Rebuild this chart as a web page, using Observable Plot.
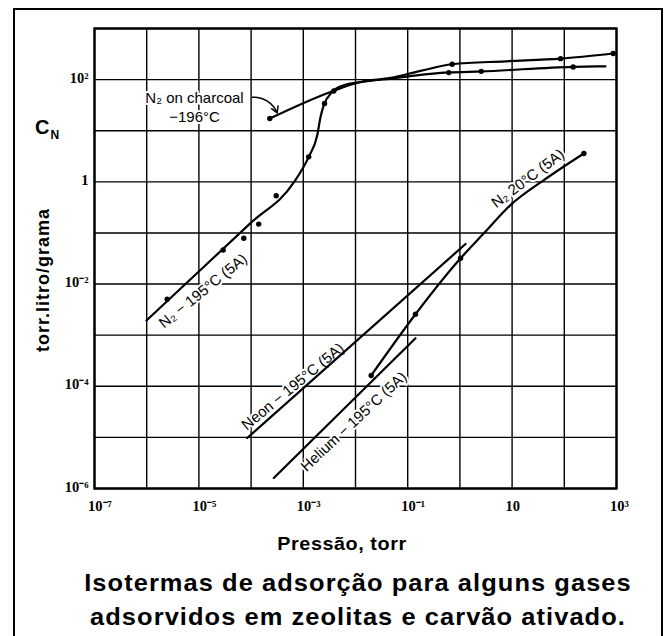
<!DOCTYPE html>
<html><head><meta charset="utf-8">
<script src="https://cdn.jsdelivr.net/npm/d3@7"></script>
<script src="https://cdn.jsdelivr.net/npm/@observablehq/plot@0.6"></script>
<style>
body{margin:0;background:#fff;width:665px;height:636px;overflow:hidden;position:relative;font-family:"Liberation Sans",Arial,sans-serif}
#box{position:absolute;left:13px;top:8px;width:650px;height:700px;border:2.5px solid #000;box-sizing:border-box}
#chart{position:absolute;left:0;top:0}
.t{position:absolute;white-space:nowrap;font-weight:bold;color:#000;font-family:"Liberation Sans",Arial,sans-serif}
</style></head><body>
<div id="box"></div>
<div id="chart"></div>
<div class="t" style="left:35px;top:117px;font-size:20px;line-height:20px">C<span style="font-size:12px;position:relative;top:5px;margin-left:1px">N</span></div>
<div class="t" style="left:43px;top:280px;font-size:18px;line-height:20px;letter-spacing:1px;transform:translate(-50%,-50%) rotate(-90deg)">torr.litro/grama</div>
<div class="t" style="left:342px;top:534px;font-size:18px;line-height:20px;letter-spacing:0.5px;transform:translateX(-50%) scaleX(1.1)">Pressão, torr</div>
<div class="t" style="left:358px;top:566px;font-size:24px;line-height:34px;letter-spacing:1px;text-align:center;transform:translateX(-50%) scaleX(1.06)">Isotermas de adsorção para alguns gases<br>adsorvidos em zeolitas e carvão ativado.</div>
<script>
// N2 -195°C on zeolite 5A: curve
const zeoCurveP = [9.9e-7, 1.07e-5, 9.75e-5, 6.58e-4, 1.27e-3, 1.85e-3, 2.14e-3, 2.47e-3, 3.58e-3, 5.97e-3, 1.25e-2, 4.68e-2, 0.612, 2.56, 148, 615];
const zeoCurveC = [1.93e-3, 1.88e-2, 0.156, 0.973, 3.08, 8.17, 18.6, 31.6, 57.5, 77.6, 89.1, 104.7, 138, 144.5, 178, 182];
// N2 -195°C on zeolite 5A: measured points
const zeoDotP = [2.47e-6, 2.92e-5, 7.24e-5, 1.40e-4, 3.03e-4, 1.27e-3, 2.55e-3, 3.84e-3, 0.612, 2.56, 148];
const zeoDotC = [5.05e-3, 4.63e-2, 7.85e-2, 0.149, 0.533, 3.08, 34.0, 59.8, 137, 145, 176];
// N2 on charcoal -196°C
const charCurveP = [2.28e-4, 3.32e-3, 1.25e-2, 4.68e-2, 0.176, 0.713, 7.48, 84.5, 865];
const charCurveC = [17.3, 57.3, 89.7, 108, 148, 200, 228, 257, 324];
const charDotP = [2.28e-4, 0.713, 84.5, 865];
const charDotC = [17.3, 200, 257, 324];
// N2 20°C (5A)
const n2warmP = [2.0e-2, 0.141, 1.03, 2.87, 9.31, 40.5, 237];
const n2warmC = [1.63e-4, 2.57e-3, 3.19e-2, 9.82e-2, 0.351, 1.08, 3.59];
const n2warmDotP = [2.0e-2, 0.141, 1.03, 237];
const n2warmDotC = [1.63e-4, 2.57e-3, 3.19e-2, 3.59];
// Neon -195°C (5A)
const neonP = [8.41e-5, 1.28];
const neonC = [9.73e-6, 6.07e-2];
// Helium -195°C (5A)
const heliumP = [2.72e-4, 0.141];
const heliumC = [1.61e-6, 8.73e-4];

// grid and tick labels
const xGrid = [1e-7,1e-6,1e-5,1e-4,1e-3,1e-2,1e-1,1,1e1,1e2,1e3];
const yGrid = [1e-6,1e-5,1e-4,1e-3,1e-2,1e-1,1,1e1,1e2,1e3];
const xTickExp = [-7,-5,-3,-1,1,3];
const xTickText = ["10⁻⁷","10⁻⁵","10⁻³","10⁻¹","10","10³"];
const yTickExp = [2,0,-2,-4,-6];
const yTickText = ["10²","1","10⁻²","10⁻⁴","10⁻⁶"];

// in-plot labels
const labelText = ["N₂ on charcoal\n−196°C", "N₂ − 195°C (5A)", "Neon − 195°C (5A)", "Helium − 195°C (5A)", "N₂ 20°C (5A)"];
const labelP = [8.24e-6, 1.16e-5, 6.12e-4, 8.95e-3, 19.5];
const labelC = [30.1, 7.67e-3, 1.03e-4, 2.12e-5, 1.21];
const labelAngle = [0, -39, -39.5, -43, -37];
const leader = {p1: 1.06e-4, c1: 45.1, p2: 3.16e-4, c2: 22.3};

const zip = (P, C) => P.map((p, i) => ({p, c: C[i]}));
const xMap = new Map(xTickExp.map((e, i) => [e, xTickText[i]]));
const yMap = new Map(yTickExp.map((e, i) => [e, yTickText[i]]));
const labels = labelText.map((t, i) => ({t, p: labelP[i], c: labelC[i], a: labelAngle[i]}));

const lineOpts = {x: "p", y: "c", stroke: "#000", strokeWidth: 2.2};
const dotOpts = {x: "p", y: "c", r: 2.7, fill: "#000"};

const chart = Plot.plot({
  width: 665, height: 540,
  marginLeft: 94, marginRight: 49, marginTop: 28, marginBottom: 52,
  style: {background: "none", overflow: "visible", fontFamily: "Liberation Sans, Arial, sans-serif"},
  x: {type: "log", domain: [1e-7, 1e3]},
  y: {type: "log", domain: [1e-6, 1e3]},
  marks: [
    Plot.ruleX(xGrid, {stroke: "#000", strokeWidth: 1.4}),
    Plot.ruleY(yGrid, {stroke: "#000", strokeWidth: 1.4}),
    Plot.frame({stroke: "#000", strokeWidth: 2.4}),
    Plot.axisX({ticks: xTickExp.map(e => 10 ** e), tickFormat: d => xMap.get(Math.round(Math.log10(d))),
      tickSize: 0, tickPadding: 12, textAnchor: "start", dx: -6.5, fontSize: 14.5, fontWeight: "bold",
      fontFamily: "Liberation Serif, Times New Roman, serif", fill: "#000", label: null}),
    Plot.axisY({ticks: yTickExp.map(e => 10 ** e), tickFormat: d => yMap.get(Math.round(Math.log10(d))),
      tickSize: 0, tickPadding: 6, dy: -1.5, fontSize: 14.5, fontWeight: "bold",
      fontFamily: "Liberation Serif, Times New Roman, serif", fill: "#000", label: null}),
    Plot.text(labels, {x: "p", y: "c", text: "t", rotate: "a", fontSize: 15, lineHeight: 1.25,
      fill: "#000", stroke: "white", strokeWidth: 4, fontFamily: "Liberation Sans, Arial, sans-serif"}),
    Plot.line(zip(neonP, neonC), lineOpts),
    Plot.line(zip(heliumP, heliumC), lineOpts),
    Plot.line(zip(n2warmP, n2warmC), {...lineOpts, curve: "monotone-x"}),
    Plot.line(zip(charCurveP, charCurveC), {...lineOpts, curve: "monotone-x"}),
    Plot.line(zip(zeoCurveP, zeoCurveC), {...lineOpts, curve: "monotone-x"}),
    Plot.dot(zip(zeoDotP, zeoDotC), dotOpts),
    Plot.dot(zip(charDotP, charDotC), dotOpts),
    Plot.dot(zip(n2warmDotP, n2warmDotC), dotOpts),
    Plot.arrow([leader], {x1: "p1", y1: "c1", x2: "p2", y2: "c2", bend: 35, headLength: 7, stroke: "#000", strokeWidth: 1.5})
  ]
});
document.getElementById("chart").appendChild(chart);
</script>
</body></html>
